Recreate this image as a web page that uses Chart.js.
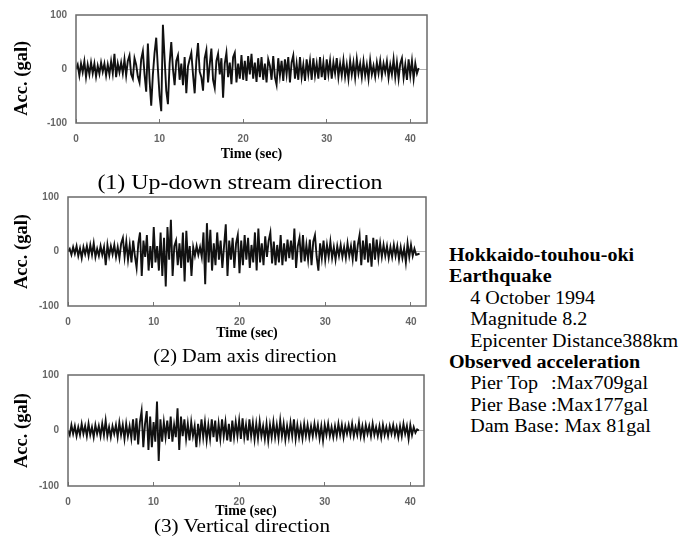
<!DOCTYPE html>
<html><head><meta charset="utf-8">
<script src="https://cdn.jsdelivr.net/npm/chart.js@4.4.1/dist/chart.umd.min.js"></script>
<style>
html,body{margin:0;padding:0;background:#fff;}
body{width:684px;height:544px;position:relative;overflow:hidden;font-family:"Liberation Serif","Times New Roman",serif;color:#000;}
canvas{position:absolute;}
.cap{position:absolute;white-space:nowrap;line-height:1;}
#info{position:absolute;left:449px;top:245px;font-size:18px;line-height:21.4px;transform:scaleX(1.115);transform-origin:left top;white-space:nowrap;}
#info .b{font-weight:bold;}
#info .i{padding-left:19px;}
#info .lab{display:inline-block;width:72.5px;}
#info .lab2{display:inline-block;width:75px;}
</style></head><body>
<canvas id="c1" width="440" height="170" style="left:0;top:0"></canvas>
<canvas id="c2" width="440" height="165" style="left:0;top:180px"></canvas>
<canvas id="c3" width="440" height="165" style="left:0;top:360px"></canvas>
<div class="cap" id="cap1" style="left:240px;top:182px;font-size:21px;transform:translate(-50%,-50%) scaleX(1.14);">(1) Up-down stream direction</div>
<div class="cap" id="cap2" style="left:245px;top:355px;font-size:19px;transform:translate(-50%,-50%) scaleX(1.07);">(2) Dam axis direction</div>
<div class="cap" id="cap3" style="left:242px;top:525px;font-size:19px;transform:translate(-50%,-50%) scaleX(1.115);">(3) Vertical direction</div>
<div id="info">
<div class="b">Hokkaido-touhou-oki</div>
<div class="b">Earthquake</div>
<div class="i">4 October 1994</div>
<div class="i">Magnitude 8.2</div>
<div class="i">Epicenter Distance388km</div>
<div class="b">Observed acceleration</div>
<div class="i"><span class="lab">Pier Top</span>:Max709gal</div>
<div class="i"><span class="lab">Pier Base</span>:Max177gal</div>
<div class="i"><span class="lab2">Dam Base</span>: Max 81gal</div>
</div>
<script>
// sample interval of the digitised records (sec)
const sampleInterval = 0.2;

// (1) Up-down stream direction, acceleration (gal)
const upDownStream = [
  0, 8, -12, 10, -6, 14, -15, 8, -10, 12,
  -8, 10, -14, 6, -9, 12, -5, 10, -12, 8,
  -10, 14, -8, 28, -15, 10, -6, 12, -8, 18,
  -12, 15, 25, -10, -18, 20, 8, -14, -25, 18,
  33, -10, -42, 47, -20, -68, -10, 30, 58, 0,
  -50, -78, 82, 20, -40, -65, 10, 50, 0, -30,
  15, 25, -20, 10, -30, 22, -45, 5, 18, 30,
  -10, -45, 15, 48, -5, -15, -40, 20, 35, -25,
  8, 38, -20, -35, 15, 28, -10, 20, -53, 10,
  30, -15, 12, -28, 22, 30, -25, 10, -18, 26,
  -20, 15, -22, 24, -10, 28, -18, 12, -24, 20,
  -15, 22, -20, 10, -25, 18, 6, -20, 24, -15,
  -29, 20, -12, 15, -22, 18, -10, 22, -25, 12,
  25, -18, 10, -20, 22, -15, 8, -22, 18, -10,
  15, -20, 20, -12, 10, -18, 22, -15, 12, -20,
  18, -10, 15, -18, 12, -8, 20, -15, 10, -12,
  16, -14, 8, -18, 15, -10, 12, -16, 18, -8,
  10, -15, 14, -12, 8, -18, 16, -10, 6, -14,
  12, -8, 15, -12, 10, -6, 14, -16, 8, -10,
  18, -15, 12, -18, 10, 20, -16, 8, -20, 18,
  -12, 15, -18, 10, -8, 2
];

// (2) Dam axis direction, acceleration (gal)
const damAxis = [
  0, 5, -6, 8, -4, 10, -8, 6, -12, 8,
  -5, 10, -8, 12, -6, 15, -10, 5, -8, 10,
  -6, 8, -25, 12, -8, 10, -5, 12, -10, 8,
  -12, 15, 25, -10, 18, -15, 12, -20, 20, -8,
  -30, 15, 35, -45, 20, -10, 30, -35, 10, -30,
  45, -20, 10, -35, 35, -45, 25, -64, 45, -15,
  58, -45, 10, 20, -25, 15, -30, 35, -55, 38,
  -20, 10, -45, 8, -8, 10, -6, 8, -10, 35,
  -60, 52, -20, 40, -35, 15, -25, 35, -15, 20,
  -30, 10, 50, -45, 20, -15, 25, -30, 15, 30,
  -40, 20, -25, 30, -15, 25, -30, 12, -20, 35,
  -35, 42, -20, 15, -25, 28, -10, 20, 35, -22,
  18, -25, 12, -20, 30, -25, 15, -18, 22, -12,
  20, -15, 42, -30, 10, 25, -20, 30, -18, 12,
  -15, 22, -25, 18, 30, -10, -35, 15, -12, 20,
  -15, 12, -10, 18, -12, 8, -15, 10, -8, 12,
  -10, 8, -12, 15, -8, 10, -14, 20, -18, 12,
  30, -25, 20, -15, 30, -20, 15, -28, 25, -15,
  22, -12, 15, -10, 12, -8, 10, -12, 8, -10,
  12, -8, 10, -14, 8, -12, 6, -20, 15, -10,
  12, -8, 5, -6, -5, -4
];

// (3) Vertical direction, acceleration (gal)
const vertical = [
  0, -8, 10, -6, 8, -10, 6, -8, 12, -6,
  8, -10, 12, -8, 6, -12, 10, -6, 8, -10,
  12, -8, 18, -10, 6, -12, 8, -6, 10, -12,
  14, -8, 10, -15, 12, -10, 8, -14, 20, -18,
  22, -25, 15, 35, -30, 12, 35, -35, 25, -30,
  15, -20, 52, -55, 20, -20, 15, -12, 18, -15,
  25, -20, 10, -12, 40, -35, 25, -10, 20, -15,
  12, -18, 15, -10, 8, -30, 12, -15, 20, -12,
  15, -18, 10, -15, 20, -12, 18, -20, 12, -15,
  20, -10, 15, -18, 12, -20, 18, -12, 15, -10,
  18, -15, 22, -12, 10, -18, 20, -10, 14, -16,
  12, -14, 16, -10, 8, -15, 12, -18, 10, -12,
  15, -12, 10, -14, 18, -10, 12, -16, 8, -12,
  14, -10, 20, -15, 10, -12, 8, -14, 12, -10,
  10, -12, 8, -10, 12, -8, 10, -14, 8, -18,
  10, -8, 12, -10, 6, -12, 8, -10, 12, -8,
  10, -12, 8, -6, 10, -8, 12, -10, 6, -8,
  14, -10, 8, -12, 10, -6, 8, -10, 12, -8,
  6, -10, 8, -12, 10, -8, 6, -10, 8, -6,
  10, -8, 6, -12, 8, -10, 12, -6, 8, -15,
  10, -8, 6, -4, 2, 0
];

// time categories (sec)
const times = upDownStream.map((_, i) => Math.round(i * sampleInterval * 10) / 10);

const xTickValues = [0, 10, 20, 30, 40];
const yTickValues = [-100, 0, 100];
const xTitle = 'Time (sec)';
const yTitle = 'Acc. (gal)';

const frame = {
  id: 'frame',
  afterDraw(chart) {
    const {ctx, chartArea: a} = chart;
    ctx.save();
    ctx.strokeStyle = '#6a6a6a';
    ctx.lineWidth = 1.5;
    ctx.strokeRect(a.left, a.top, a.right - a.left, a.bottom - a.top);
    ctx.restore();
  }
};

const tickFont = {family: '"Liberation Sans", Arial, sans-serif', size: 10, weight: 'bold'};
const titleFontY = {family: '"Liberation Serif", "Times New Roman", serif', size: 18.5, weight: 'bold'};
const titleFontX = {family: '"Liberation Serif", "Times New Roman", serif', size: 14, weight: 'bold'};

function makePanel(id, values, o) {
  return new Chart(document.getElementById(id), {
    type: 'line',
    data: {labels: times, datasets: [{data: values, borderColor: '#111', borderWidth: 1.9, pointRadius: 0, tension: 0, fill: false}]},
    options: {
      responsive: false, animation: false, events: [],
      layout: {padding: {top: o.top, right: o.right, bottom: 0, left: 0}},
      plugins: {legend: {display: false}, tooltip: {enabled: false}},
      scales: {
        x: {
          type: 'linear', min: 0, max: o.xmax,
          afterBuildTicks: (s) => { s.ticks = xTickValues.map(v => ({value: v})); },
          ticks: {font: tickFont, color: '#666', padding: 14, maxRotation: 0},
          grid: {drawOnChartArea: false, drawTicks: true, tickLength: -4, color: '#777'},
          border: {display: false},
          title: {display: true, text: xTitle, font: titleFontX, color: '#000', padding: {top: 0, bottom: o.xtb}},
          afterFit: (s) => { s.height = o.xh; }
        },
        y: {
          min: -100, max: 100,
          afterBuildTicks: (s) => { s.ticks = yTickValues.map(v => ({value: v})); },
          ticks: {font: tickFont, color: '#666', padding: 9},
          grid: {drawTicks: false, lineWidth: 1, color: (c) => (c.tick && c.tick.value === 0) ? '#b0b0b0' : 'rgba(0,0,0,0)'},
          border: {display: false},
          title: {display: true, text: o.ytext, font: titleFontY, color: '#000', padding: {top: 11, bottom: 0}},
          afterFit: (s) => { s.width = o.yw; }
        }
      }
    },
    plugins: [frame]
  });
}

makePanel('c1', upDownStream, {top: 14, right: 13, xh: 47, yw: 76, xmax: 42, xtb: 7.6, ytext: yTitle + '\u00a0\u00a0\u00a0\u00a0'});
makePanel('c2', damAxis, {top: 17, right: 14, xh: 39, yw: 68, xmax: 41.75, xtb: 3.6, ytext: yTitle});
makePanel('c3', vertical, {top: 13, right: 16, xh: 39, yw: 68, xmax: 41.6, xtb: 4.8, ytext: yTitle});
</script>
</body></html>
